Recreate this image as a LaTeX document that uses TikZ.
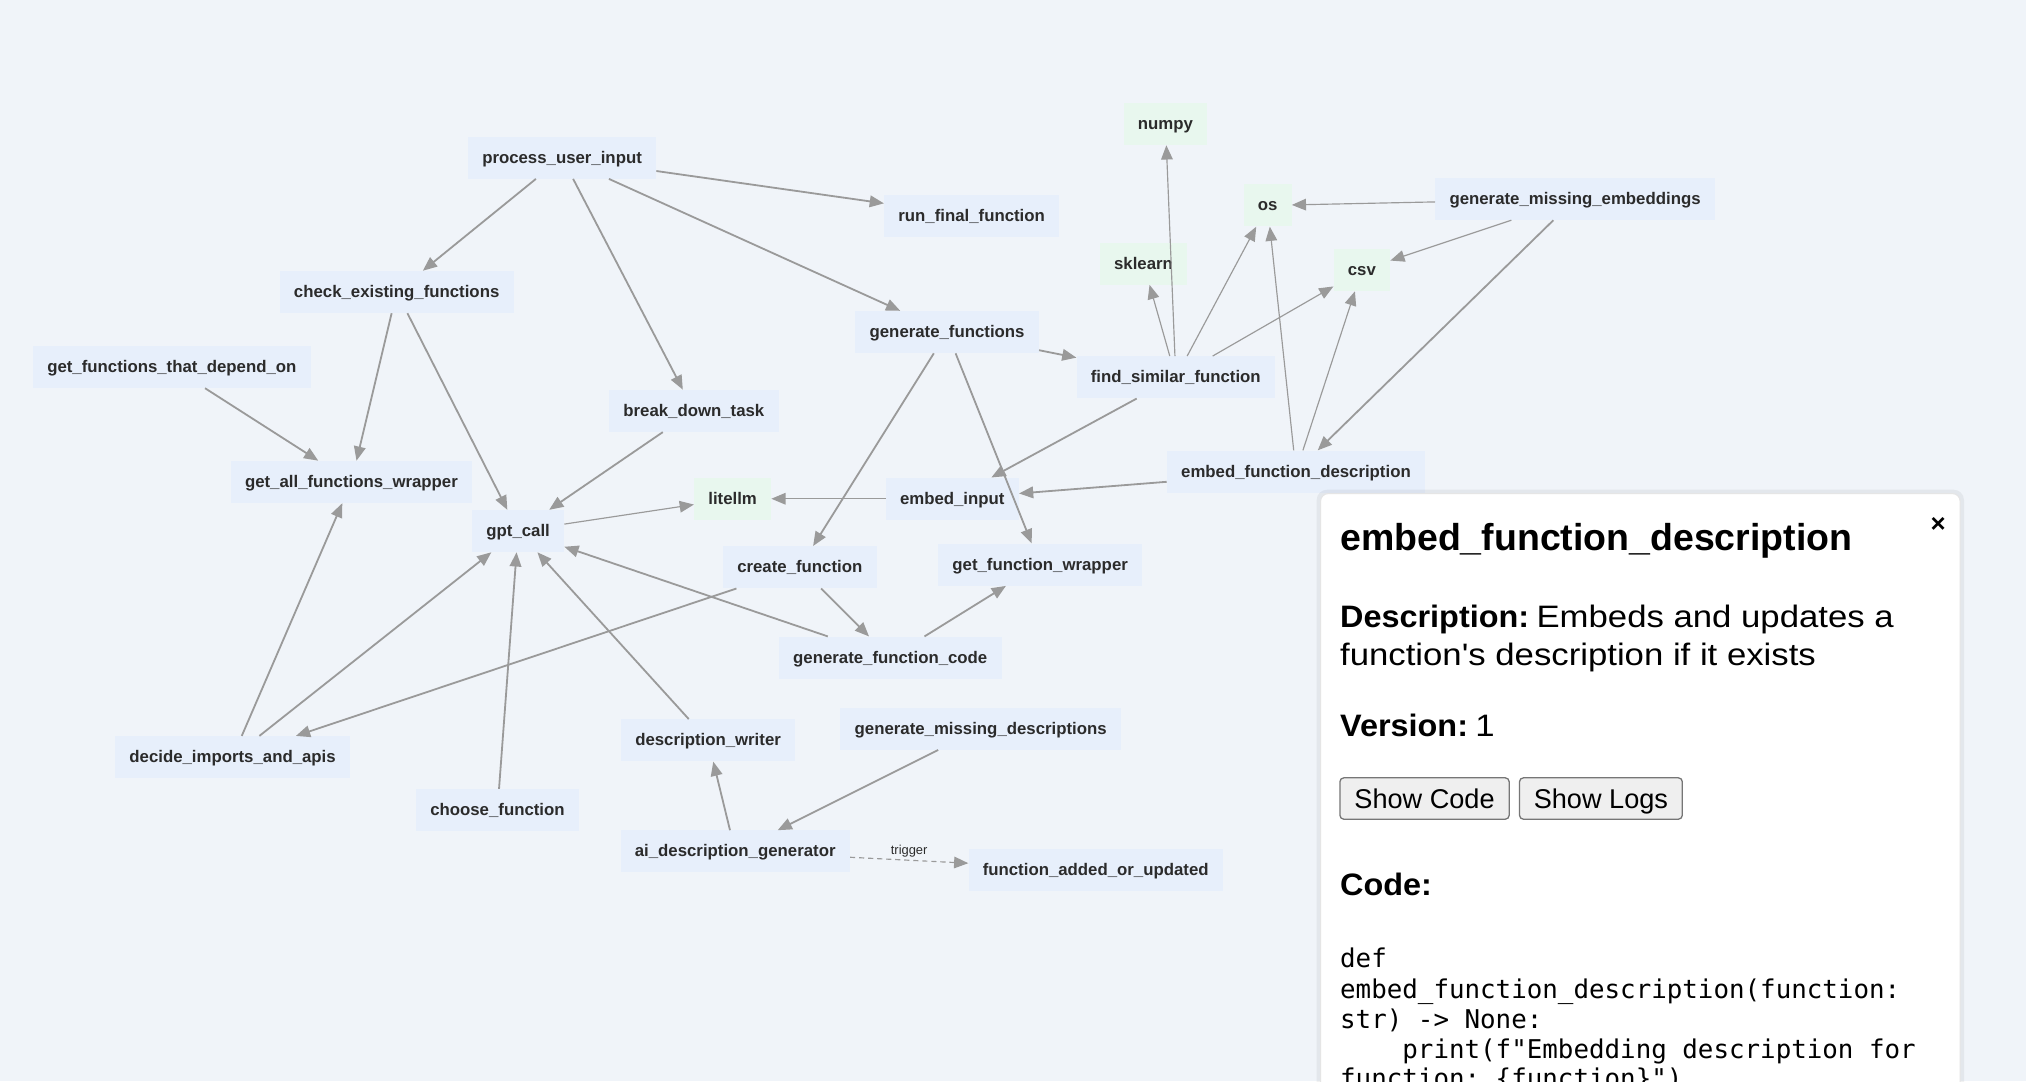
\documentclass[tikz,border=0pt]{standalone}
\usepackage{fontspec}
\usepackage{graphicx}
\setmainfont{Liberation Sans}[Ligatures=TeXOff]
\setmonofont{DejaVu Sans Mono}
\usetikzlibrary{arrows.meta}
\definecolor{bg}{HTML}{F0F4F9}
\definecolor{nodefill}{HTML}{E7EFFB}
\definecolor{libfill}{HTML}{E8F7EE}
\definecolor{edgecol}{HTML}{9A9A9A}
\definecolor{txt}{HTML}{2B2B2B}
\definecolor{btnfill}{HTML}{EFEFEF}
\definecolor{btnline}{HTML}{767676}
\newcommand{\regw}[1]{\scalebox{1.12}[1]{#1}}
\newcommand{\boldw}[1]{\scalebox{1.045}[1]{\bfseries #1}}
\begin{document}
\begin{tikzpicture}[x=1pt,y=-1pt,
 fn/.style={fill=nodefill, draw=none, text=txt, font=\fontsize{13}{15}\selectfont\bfseries, minimum height=32.5, inner xsep=11, inner ysep=0, text height=11, text depth=2.6, yshift=-1pt},
 lib/.style={fn, fill=libfill},
 arr/.style={draw=edgecol, line width=1.4, -{Triangle[length=11,width=9]}},
 libarr/.style={arr, line width=0.9},
 trig/.style={draw=edgecol, line width=0.9, dash pattern=on 4 off 3, -{Triangle[length=11,width=9]}},
 ptext/.style={anchor=base west, inner sep=0, text=black},
 btn/.style={draw=btnline, fill=btnfill, rounded corners=3, line width=1, minimum height=32, inner xsep=0, inner ysep=0, text height=17, text depth=2, font=\fontsize{21}{25}\selectfont, text=black},
]
\clip (0,0) rectangle (1568,837);
\fill[bg] (0,0) rectangle (1568,837);

% nodes
\node[fn] (pui) at (435,121) {process\_user\_input};
\node[fn] (rff) at (752,166) {run\_final\_function};
\node[fn] (cef) at (307,225) {check\_existing\_functions};
\node[fn] (gftdo) at (133,283) {get\_functions\_that\_depend\_on};
\node[fn] (bdt) at (537,317) {break\_down\_task};
\node[fn] (gafw) at (272,372) {get\_all\_functions\_wrapper};
\node[fn] (gpt) at (401,410) {gpt\_call};
\node[lib] (litellm) at (567,385) {litellm};
\node[fn] (gf) at (733,256) {generate\_functions};
\node[fn] (fsf) at (910,291) {find\_similar\_function};
\node[lib] (numpy) at (902,95) {numpy};
\node[lib] (os) at (981,158) {os};
\node[lib] (sklearn) at (885,203) {sklearn};
\node[lib] (csv) at (1054,208) {csv};
\node[fn] (gme) at (1219,153) {generate\_missing\_embeddings};
\node[fn] (efd) at (1003,364) {embed\_function\_description};
\node[fn] (ei) at (737,385) {embed\_input};
\node[fn] (cf) at (619,438) {create\_function};
\node[fn] (gfw) at (805,436) {get\_function\_wrapper};
\node[fn] (gfc) at (689,508) {generate\_function\_code};
\node[fn] (dia) at (180,585) {decide\_imports\_and\_apis};
\node[fn] (chf) at (385,626) {choose\_function};
\node[fn] (dw) at (548,572) {description\_writer};
\node[fn] (gmd) at (759,563) {generate\_missing\_descriptions};
\node[fn] (adg) at (569,658) {ai\_description\_generator};
\node[fn] (fau) at (848,672) {function\_added\_or\_updated};

% edges
\draw[arr] (pui) -- (cef);
\draw[arr] (pui) -- (bdt);
\draw[arr] (pui) -- (gf);
\draw[arr] (pui) -- (rff);
\draw[arr] (cef) -- (gafw);
\draw[arr] (cef) -- (gpt);
\draw[arr] (gftdo) -- (gafw);
\draw[arr] (bdt) -- (gpt);
\draw[libarr] (gpt) -- (litellm);
\draw[arr] (gf) -- (fsf);
\draw[arr] (gf) -- (cf);
\draw[arr] (gf) -- (gfw);
\draw[libarr] (fsf) -- (numpy);
\draw[libarr] (fsf) -- (sklearn);
\draw[libarr] (fsf) -- (os);
\draw[libarr] (fsf) -- (csv);
\draw[arr] (fsf) -- (ei);
\draw[libarr] (gme) -- (os);
\draw[libarr] (gme) -- (csv);
\draw[arr] (gme) -- (efd);
\draw[libarr] (efd) -- (os);
\draw[libarr] (efd) -- (csv);
\draw[arr] (efd) -- (ei);
\draw[libarr] (ei) -- (litellm);
\draw[arr] (cf) -- (gfc);
\draw[arr] (gfc) -- (gpt);
\draw[arr] (gfc) -- (gfw);
\draw[arr] (cf) -- (dia);
\draw[arr] (dia) -- (gafw);
\draw[arr] (dia) -- (gpt);
\draw[arr] (chf) -- (gpt);
\draw[arr] (dw) -- (gpt);
\draw[arr] (adg) -- (dw);
\draw[arr] (gmd) -- (adg);
\draw[trig] (adg) -- node[above, font=\fontsize{10}{12}\selectfont, text=txt, inner sep=2] (triglbl) {trigger} (fau);

% detail panel
\fill[black, opacity=0.05, rounded corners=8] (1019,379) rectangle (1520,860);
\filldraw[fill=white, draw=black!10, line width=0.8, rounded corners=6] (1022,382) rectangle (1517,860);
\node[ptext, font=\fontsize{29}{34}\selectfont\bfseries] (ptitle) at (1037,426) {embed\_function\_description};
\node[font=\fontsize{20}{24}\selectfont\bfseries, text=black, inner sep=0] (pclose) at (1500,406) {×};
\node[ptext, font=\fontsize{24}{29}\selectfont] (pdesc1) at (1037,486) {\boldw{Description:}\hspace{-1pt} \regw{Embeds and updates a}};
\node[ptext, font=\fontsize{24}{29}\selectfont] (pdesc2) at (1037,515) {\regw{function's description if it exists}};
\node[ptext, font=\fontsize{24}{29}\selectfont] (pver) at (1037,570) {\boldw{Version:}\hspace{-1pt} \regw{1}};
\node[btn, minimum width=131] (bcode) at (1102.5,618) {Show Code};
\node[btn, minimum width=126] (blogs) at (1239,618) {Show Logs};
\node[ptext, font=\fontsize{24}{29}\selectfont] (pcode) at (1037,693) {\boldw{Code:}};
\begin{scope}[every node/.style={ptext, font=\fontsize{20}{23}\ttfamily}]
\node (c1) at (1037,749) {def};
\node (c2) at (1037,773) {embed\_function\_description(function:};
\node (c3) at (1037,796) {str) -> None:};
\node (c4) at (1037,819) {\hphantom{xxxx}print(f"Embedding description for};
\node (c5) at (1037,842) {function: \{function\}")};
\end{scope}
\end{tikzpicture}
\end{document}
